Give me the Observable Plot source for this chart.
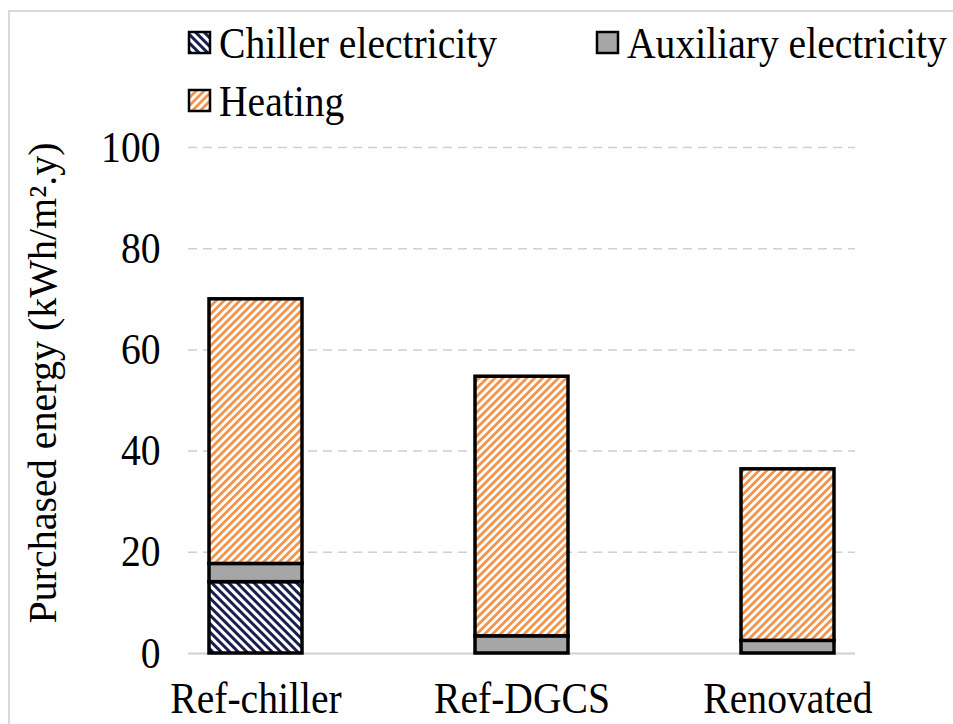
<!DOCTYPE html>
<html><head><meta charset="utf-8">
<script src="https://cdn.jsdelivr.net/npm/d3@7"></script>
<script src="https://cdn.jsdelivr.net/npm/@observablehq/plot@0.6"></script>
<style>
body{margin:0;background:#fff;}
#wrap{position:relative;width:953px;height:724px;overflow:hidden;}
#frame{position:absolute;left:8px;top:10px;width:1000px;height:800px;border-left:2px solid #d9d9d9;border-top:2px solid #d9d9d9;pointer-events:none;}
#chart{position:absolute;left:0;top:0;}
</style></head><body><div id="wrap"><div id="chart"></div><div id="frame"></div></div>
<script>
const categories = ["Ref-chiller", "Ref-DGCS", "Renovated"];
const series = ["Chiller electricity", "Auxiliary electricity", "Heating"];
const chillerElectricity = [14.1, 0, 0];
const auxiliaryElectricity = [3.6, 3.4, 2.5];
const heating = [52.3, 51.3, 33.9];
const yTicks = [0, 20, 40, 60, 80, 100];
const yLabel = "Purchased energy (kWh/m\u00B2.y)";

const seriesValues = [chillerElectricity, auxiliaryElectricity, heating];
const fills = ["url(#pChiller)", "#a6a6a6", "url(#pHeat)"];

const rows = [];
categories.forEach((c, i) => {
  series.forEach((s, k) => {
    const v = seriesValues[k][i];
    if (v > 0) rows.push({category: c, series: s, value: v});
  });
});

const font = "'Liberation Serif', 'Times New Roman', serif";
const FS = 44, SX = 0.9;

const svg = Plot.plot({
  width: 953,
  height: 724,
  marginLeft: 188,
  marginRight: 98,
  marginTop: 147,
  marginBottom: 71,
  style: {fontFamily: font, fontSize: FS + "px", color: "#000", background: "transparent"},
  x: {domain: categories, paddingInner: 0.651, paddingOuter: 0.077, label: null},
  y: {domain: [0, 100], label: null},
  color: {domain: series, range: fills},
  marks: [
    Plot.gridY(yTicks.filter(d => d > 0), {stroke: "#d0d0d0", strokeOpacity: 1, strokeWidth: 1.5, strokeDasharray: "9,6"}),
    Plot.ruleY([0], {stroke: "#d0d0d0", strokeWidth: 2}),
    Plot.barY(rows, {x: "category", y: "value", fill: "series", order: series, stroke: "#000", strokeWidth: 3.5}),
    Plot.axisY(yTicks, {tickSize: 0, tickPadding: 28, fontSize: FS, label: null}),
    Plot.axisX({tickSize: 0, tickPadding: 28, fontSize: FS, label: null})
  ]
});

const s = d3.select(svg);
// horizontally condense axis tick labels around their anchor
s.selectAll("text").each(function() {
  const t = this.getAttribute("transform");
  if (t) {
    this.setAttribute("transform", t + ` scale(${SX},1)`);
  } else {
    const x = +(this.getAttribute("x") || 0), y = +(this.getAttribute("y") || 0);
    this.removeAttribute("x"); this.removeAttribute("y");
    this.setAttribute("transform", `translate(${x},${y}) scale(${SX},1)`);
  }
});

const defs = s.insert("defs", ":first-child");
function stripes(id, color, angle, w, sw) {
  const p = defs.append("pattern").attr("id", id).attr("patternUnits", "userSpaceOnUse")
    .attr("width", w).attr("height", w).attr("patternTransform", `rotate(${angle})`);
  p.append("rect").attr("width", w).attr("height", w).attr("fill", "#fff");
  p.append("rect").attr("width", sw).attr("height", w).attr("fill", color);
}
stripes("pChiller", "#1a1f50", -45, 6, 3);
stripes("pHeat", "#f2944c", 45, 5.6, 2.8);

// legend
const legendItems = [
  {name: series[0], fill: fills[0], x: 188, y: 43},
  {name: series[1], fill: fills[1], x: 596, y: 43},
  {name: series[2], fill: fills[2], x: 188, y: 101}
];
const lg = s.append("g").attr("text-anchor", "start");
legendItems.forEach(d => {
  lg.append("rect").attr("x", d.x + 1).attr("y", d.y - 11).attr("width", 21).attr("height", 21)
    .attr("fill", d.fill).attr("stroke", "#000").attr("stroke-width", 2.5);
  lg.append("text").attr("transform", `translate(${d.x + 31},${d.y}) scale(${SX},1)`).attr("dy", "0.35em")
    .attr("text-anchor", "start")
    .attr("font-size", FS).attr("font-family", font).attr("fill", "#000").text(d.name);
});

// y-axis title
s.append("text").attr("transform", "translate(42,383) rotate(-90)")
  .attr("text-anchor", "middle").attr("dy", "0.35em")
  .attr("font-size", 40).attr("font-family", font).attr("fill", "#000").text(yLabel);

document.getElementById("chart").appendChild(svg);
</script></body></html>
